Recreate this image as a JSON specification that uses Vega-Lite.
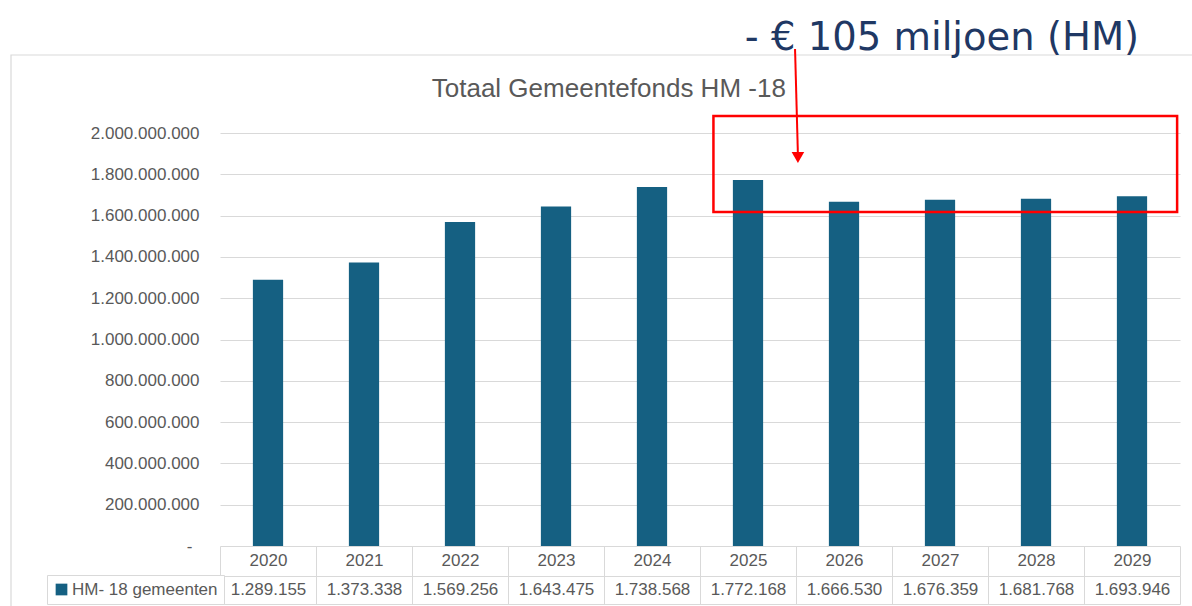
{
  "$schema": "https://vega.github.io/schema/vega-lite/v6.json",
  "width": 960,
  "height": 413,
  "autosize": {"type": "none"},
  "padding": {"left": 220, "top": 133, "right": 12, "bottom": 60},
  "background": "white",
  "datasets": {
    "fonds": [
      {"jaar": 2020, "bedrag": 1289155, "reeks": "HM- 18 gemeenten"},
      {"jaar": 2021, "bedrag": 1373338, "reeks": "HM- 18 gemeenten"},
      {"jaar": 2022, "bedrag": 1569256, "reeks": "HM- 18 gemeenten"},
      {"jaar": 2023, "bedrag": 1643475, "reeks": "HM- 18 gemeenten"},
      {"jaar": 2024, "bedrag": 1738568, "reeks": "HM- 18 gemeenten"},
      {"jaar": 2025, "bedrag": 1772168, "reeks": "HM- 18 gemeenten"},
      {"jaar": 2026, "bedrag": 1666530, "reeks": "HM- 18 gemeenten"},
      {"jaar": 2027, "bedrag": 1676359, "reeks": "HM- 18 gemeenten"},
      {"jaar": 2028, "bedrag": 1681768, "reeks": "HM- 18 gemeenten"},
      {"jaar": 2029, "bedrag": 1693946, "reeks": "HM- 18 gemeenten"}
    ],
    "grafiekkader": [{"van": 2020, "tot": 2029, "boven": 2377724, "onder": -400000}],
    "kader": [{"van": 2025, "tot": 2029, "boven": 2082324, "onder": 1617433}],
    "pijl": [{"van": 2025, "tot": 2026, "begin": 2406780, "eind": 1893462}],
    "pijlpunt": [{"jaar": 2026, "hoogte": 1881356}],
    "annotatie": [{"jaar": 2027, "hoogte": 2401937, "tekst": "- € 105 miljoen (HM)"}],
    "titel": [{"jaar": 2024, "hoogte": 2175787, "tekst": "Totaal Gemeentefonds HM -18"}]
  },
  "layer": [
    {
      "layer": [
        {
          "data": {"name": "fonds"},
          "mark": {"type": "bar", "width": {"band": 0.315}},
          "encoding": {
            "x": {
              "field": "jaar",
              "type": "ordinal",
              "title": null,
              "scale": {"paddingInner": 0, "paddingOuter": 0},
              "axis": {
                "orient": "bottom",
                "offset": 30,
                "bandPosition": 0.5,
                "tickOffset": 0,
                "labelOffset": 0,
                "labelAlign": "center",
                "domainColor": "#d9d9d9",
                "domainWidth": 1,
                "tickBand": "extent",
                "tickSize": -30,
                "tickColor": "#d9d9d9",
                "tickWidth": 1,
                "labelAngle": 0,
                "labelBaseline": "middle",
                "labelPadding": 14,
                "labelOverlap": false,
                "labelFlush": false,
                "labelFont": "Liberation Sans",
                "labelFontSize": 17,
                "labelColor": "#595959",
                "grid": false
              }
            },
            "y": {
              "field": "bedrag",
              "type": "quantitative",
              "title": null,
              "scale": {"domain": [0, 2000000], "nice": false},
              "axis": {
                "values": [0, 200000, 400000, 600000, 800000, 1000000, 1200000, 1400000, 1600000, 1800000, 2000000],
                "domain": false,
                "ticks": false,
                "grid": true,
                "gridColor": "#d9d9d9",
                "gridWidth": 1,
                "labelPadding": {"condition": {"test": "datum.value == 0", "value": 28}, "value": 21},
                "labelFont": "Liberation Sans",
                "labelFontSize": 17,
                "labelColor": "#595959",
                "labelOverlap": false,
                "labelExpr": "datum.value == 0 ? '-' : replace(format(datum.value * 1000, ','), regexp(',', 'g'), '.')"
              }
            },
            "color": {
              "field": "reeks",
              "type": "nominal",
              "scale": {"range": ["#156082"]},
              "legend": {
                "orient": "none",
                "legendX": -173,
                "legendY": 442,
                "title": null,
                "symbolType": "square",
                "symbolSize": 137,
                "symbolStrokeWidth": 0,
                "labelFont": "Liberation Sans",
                "labelFontSize": 17,
                "labelColor": "#595959",
                "labelOffset": 2,
                "padding": 6,
                "strokeColor": "#d9d9d9",
                "fillColor": "white"
              }
            }
          }
        },
        {
          "data": {"name": "grafiekkader"},
          "mark": {"type": "rect", "fillOpacity": 0, "stroke": "#d9d9d9", "strokeWidth": 1.2},
          "encoding": {
            "x": {"field": "van", "type": "ordinal", "bandPosition": -2.177, "title": null},
            "x2": {"field": "tot", "bandPosition": 1.5},
            "y": {"field": "boven", "type": "quantitative", "title": null},
            "y2": {"field": "onder"}
          }
        },
        {
          "data": {"name": "kader"},
          "mark": {"type": "rect", "fillOpacity": 0, "stroke": "#ff0000", "strokeWidth": 2.5},
          "encoding": {
            "x": {"field": "van", "type": "ordinal", "bandPosition": 0.14, "title": null},
            "x2": {"field": "tot", "bandPosition": 0.97},
            "y": {"field": "boven", "type": "quantitative", "title": null},
            "y2": {"field": "onder"}
          }
        },
        {
          "data": {"name": "pijl"},
          "mark": {"type": "rule", "color": "#ff0000", "strokeWidth": 2},
          "encoding": {
            "x": {"field": "van", "type": "ordinal", "bandPosition": 0.99, "title": null},
            "x2": {"field": "tot", "bandPosition": 0.02},
            "y": {"field": "begin", "type": "quantitative", "title": null},
            "y2": {"field": "eind"}
          }
        },
        {
          "data": {"name": "pijlpunt"},
          "mark": {"type": "point", "shape": "triangle-down", "filled": true, "color": "#ff0000", "opacity": 1, "size": 159},
          "encoding": {
            "x": {"field": "jaar", "type": "ordinal", "bandPosition": 0.02, "title": null},
            "y": {"field": "hoogte", "type": "quantitative", "title": null}
          }
        },
        {
          "data": {"name": "annotatie"},
          "mark": {"type": "text", "font": "DejaVu Sans", "fontSize": 38.5, "color": "#1f3864", "align": "center", "baseline": "alphabetic", "dx": 2},
          "encoding": {
            "x": {"field": "jaar", "type": "ordinal", "bandPosition": 0.5, "title": null},
            "y": {"field": "hoogte", "type": "quantitative", "title": null},
            "text": {"field": "tekst"}
          }
        },
        {
          "data": {"name": "titel"},
          "mark": {"type": "text", "font": "Liberation Sans", "fontSize": 26, "color": "#595959", "align": "center", "baseline": "alphabetic"},
          "encoding": {
            "x": {"field": "jaar", "type": "ordinal", "bandPosition": 0.05, "title": null},
            "y": {"field": "hoogte", "type": "quantitative", "title": null},
            "text": {"field": "tekst"}
          }
        }
      ]
    },
    {
      "data": {"name": "fonds"},
      "mark": {"type": "bar", "opacity": 0},
      "encoding": {
        "x": {
          "field": "bedrag",
          "type": "ordinal",
          "title": null,
          "sort": {"field": "jaar", "op": "min"},
          "scale": {"type": "band", "paddingInner": 0, "paddingOuter": 0},
          "axis": {
            "orient": "bottom",
            "offset": 58,
            "domainColor": "#d9d9d9",
            "domainWidth": 1,
            "tickBand": "extent",
            "tickSize": -28,
            "tickColor": "#d9d9d9",
            "tickWidth": 1,
            "labelAngle": 0,
            "labelBaseline": "middle",
            "labelPadding": 13,
            "labelOverlap": false,
            "labelFlush": false,
            "labelFont": "Liberation Sans",
            "labelFontSize": 17,
            "labelColor": "#595959",
            "grid": false,
            "labelExpr": "datum.label === '' ? '' : replace(format(datum.value, ','), regexp(',', 'g'), '.')"
          }
        },
        "y": {"field": "bedrag", "type": "quantitative", "title": null}
      }
    }
  ],
  "resolve": {"scale": {"x": "independent"}},
  "config": {"view": {"stroke": null}}
}
